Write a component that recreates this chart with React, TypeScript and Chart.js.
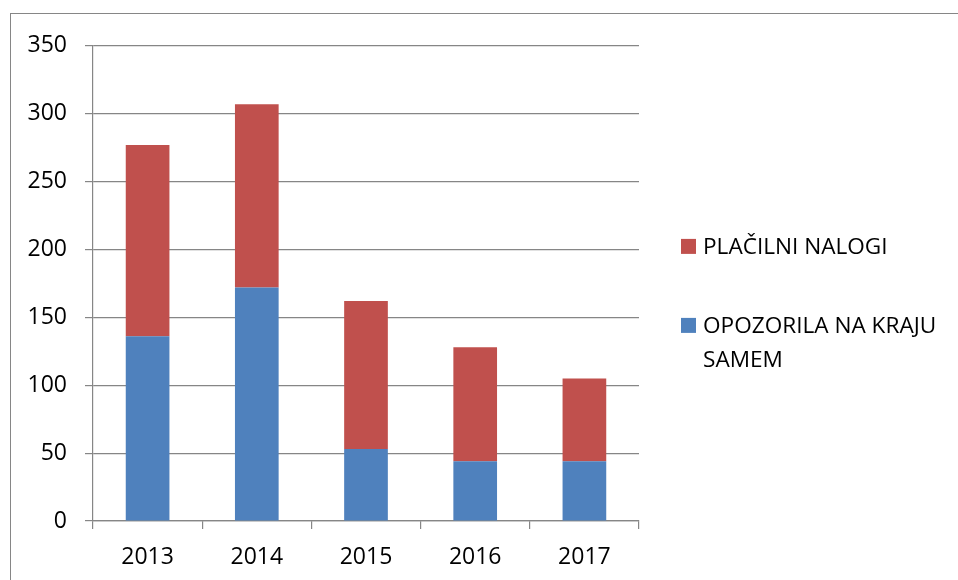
import React, { useEffect, useRef } from "react";
import { Chart, registerables } from "chart.js";

Chart.register(...registerables);

const categories = ["2013", "2014", "2015", "2016", "2017"];
const opozorilaValues = [136, 172, 53, 44, 44];
const placilniValues = [141, 135, 109, 84, 61];
const seriesLabels = ["OPOZORILA NA KRAJU SAMEM", "PLAČILNI NALOGI"];
const legendLines = [["PLAČILNI NALOGI"], ["OPOZORILA NA KRAJU", "SAMEM"]];
const yMin = 0;
const yMax = 350;
const yStep = 50;

const BLUE = "#4F81BD";
const RED = "#C0504D";
const GRID = "#868686";
const FONT = "'Open Sans', 'Liberation Sans', sans-serif";

const sideLegend = {
  id: "sideLegend",
  afterDraw(chart: any) {
    const { ctx, chartArea } = chart;
    const mid = (chartArea.top + chartArea.bottom) / 2;
    const x = chartArea.right + 42;
    const items = [...chart.data.datasets].reverse();
    const offsets = [-37, 42];
    ctx.save();
    ctx.font = `22.6px ${FONT}`;
    ctx.textBaseline = "middle";
    ctx.textAlign = "left";
    items.forEach((ds: any, i: number) => {
      const cy = mid + offsets[i];
      ctx.fillStyle = ds.backgroundColor;
      ctx.fillRect(x, cy - 7.5, 15, 15);
      ctx.fillStyle = "#000";
      legendLines[i].forEach((ln, j) => ctx.fillText(ln, x + 22, cy + 1 + j * 34));
    });
    ctx.restore();
  },
};

export default function App() {
  const ref = useRef<HTMLCanvasElement | null>(null);
  useEffect(() => {
    if (!ref.current) return;
    const chart = new Chart(ref.current, {
      type: "bar",
      data: {
        labels: categories,
        datasets: [
          { label: seriesLabels[0], data: opozorilaValues, backgroundColor: BLUE, barPercentage: 0.4, categoryPercentage: 1 },
          { label: seriesLabels[1], data: placilniValues, backgroundColor: RED, barPercentage: 0.4, categoryPercentage: 1 },
        ],
      },
      options: {
        animation: false,
        responsive: true,
        maintainAspectRatio: false,
        layout: { autoPadding: false, padding: { top: 29, right: 319, bottom: 0, left: 0 } },
        plugins: { legend: { display: false }, tooltip: { enabled: false } },
        scales: {
          x: {
            stacked: true,
            afterFit: (s: any) => { s.height = 59; },
            border: { display: true, color: GRID, width: 1.2 },
            grid: { offset: true, drawOnChartArea: false, drawTicks: true, tickLength: 8, color: GRID, lineWidth: 1.2 },
            ticks: { color: "#000", padding: 15, font: { family: FONT, size: 23 } },
          },
          y: {
            stacked: true,
            min: yMin,
            max: yMax,
            afterFit: (s: any) => { s.width = 82; },
            border: { display: true, color: GRID, width: 1.2 },
            grid: { color: GRID, tickLength: 8, lineWidth: 1.2 },
            ticks: { stepSize: yStep, color: "#000", padding: 18, font: { family: FONT, size: 23 } },
          },
        },
      },
      plugins: [sideLegend],
    });
    return () => chart.destroy();
  }, []);
  return (
    <div
      style={{
        position: "fixed",
        left: 10,
        top: 13,
        right: 0,
        bottom: 0,
        borderTop: "1px solid #868686",
        borderLeft: "1px solid #868686",
        background: "#fff",
      }}
    >
      <div style={{ position: "relative", width: "100%", height: "100%" }}>
        <canvas ref={ref} />
      </div>
    </div>
  );
}
